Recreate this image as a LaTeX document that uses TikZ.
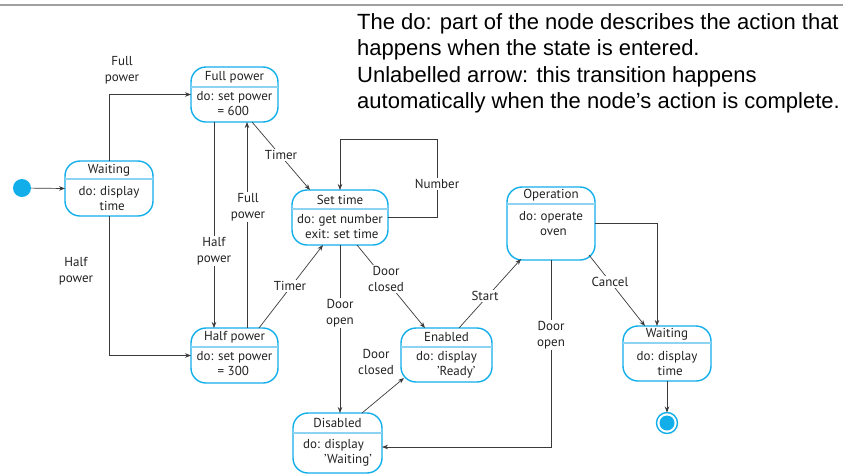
\documentclass[tikz,border=0pt]{standalone}
\usepackage{fontspec}
\setmainfont{PT Sans}
\newfontfamily\notefont{Liberation Sans}
\usetikzlibrary{arrows.meta}
\definecolor{stcyan}{HTML}{12AEEA}
\definecolor{divcyan}{HTML}{8FD3F2}
\definecolor{edgecol}{HTML}{3A3A3A}
\definecolor{txtcol}{HTML}{222222}
\tikzset{
  statebox/.style={draw=stcyan, line width=1.4pt, rounded corners=15pt, inner sep=0pt, outer sep=0pt},
  divline/.style={draw=divcyan, line width=1.4pt},
  ttext/.style={font=\fontsize{13}{15}\selectfont, text=txtcol, inner sep=0pt},
  btext/.style={font=\fontsize{13}{15}\selectfont, align=left, inner sep=0pt, text=txtcol},
  tr/.style={draw=edgecol, line width=0.7pt, -{Stealth[length=6pt,width=4.5pt]}},
  lbl/.style={font=\fontsize{13}{16}\selectfont, align=center, fill=white, inner sep=1.5pt, text=txtcol},
  notetext/.style={font=\notefont\fontsize{22}{26}\selectfont, anchor=base west, inner sep=0pt, text=black},
}
\newcommand\mkstate[9]{%
  \pgfmathsetmacro\mkw{#4-#2}%
  \pgfmathsetmacro\mkh{#5-#3}%
  \pgfmathsetmacro\mkcx{(#2+#4)/2}%
  \pgfmathsetmacro\mkcy{(#3+#5)/2}%
  \pgfmathsetmacro\mkty{(#3+#6)/2}%
  \node[statebox, minimum width=\mkw pt, minimum height=\mkh pt] (#1) at (\mkcx,\mkcy) {};
  \draw[divline] (#2,#6) -- (#4,#6);
  \node[ttext] (#1-t) at (\mkcx,\mkty) {#7};
  \node[btext] (#1-b) at (\mkcx,#9) {#8};
}
\begin{document}
\begin{tikzpicture}[x=1pt,y=-1pt]
\useasboundingbox (0,0) rectangle (855,475);
\draw[gray!75, line width=1.2pt] (0,5) -- (843,5);

% note text
\node[notetext] (n1t) at (357,29) {The do: part of the node describes the action that};
\node[notetext] (n2t) at (357,55) {happens when the state is entered.};
\node[notetext] (n3t) at (357,82) {Unlabelled arrow: this transition happens};
\node[notetext] (n4t) at (357,108) {automatically when the node’s action is complete.};

% states
\mkstate{w1}{65}{161}{153}{216}{179}{Waiting}{do: display\\\hspace*{21pt}time}{198.5}
\mkstate{fp}{191}{67}{278}{122}{87}{Full power}{do: set power\\\hspace*{21pt}= 600}{103.5}
\mkstate{st}{292}{190}{388}{245}{209}{Set time}{do: get number\\\hspace*{8pt}exit: set time}{227}
\mkstate{hp}{191}{328}{278}{383}{347}{Half power}{do: set power\\\hspace*{21pt}= 300}{364}
\mkstate{dis}{293}{413}{382}{473}{433}{Disabled}{do: display\\\hspace*{21pt}'Waiting'}{452.5}
\mkstate{en}{401}{328}{492}{382}{347}{Enabled}{do: display\\\hspace*{21pt}'Ready'}{364.5}
\mkstate{op}{507}{187}{595}{260}{204}{Operation}{do: operate\\\hspace*{21pt}oven}{224}
\mkstate{w2}{623}{326}{711}{381}{343}{Waiting}{do: display\\\hspace*{21pt}time}{363}

% initial and final
\node[circle, fill=stcyan, minimum size=18pt, inner sep=0pt, outer sep=0pt] (init) at (22,188) {};
\node[circle, draw=stcyan, line width=1.4pt, minimum size=21pt, inner sep=0pt, outer sep=0pt] (fin) at (667,423) {};
\node[circle, fill=stcyan, minimum size=15pt, inner sep=0pt] (fin-in) at (667,423) {};

\coordinate (nloop) at (437,139);

% transitions
\draw[tr] (init) -- (w1.west);
\draw[tr] (w1.north) |- (fp.west);
\draw[tr] (w1.south) |- (hp.west);
\draw[tr] ([xshift=-20.5pt]fp.south) -- ([xshift=-20.5pt]hp.north);
\draw[tr] ([xshift=12.5pt]hp.north) -- ([xshift=12.5pt]fp.south);
\draw[tr] ([xshift=17.5pt]fp.south) -- ([xshift=-30pt]st.north);
\draw[tr] ([xshift=24.5pt]hp.north) -- ([xshift=-17pt]st.south);
\draw[tr] (st.east) -| (nloop) -| (st.north);
\draw[tr] (st.south) -- (st.south |- dis.north);
\draw[tr] ([xshift=17pt]st.south) -- ([xshift=-21.5pt]en.north);
\draw[tr] ([xshift=24.5pt]dis.north) -- ([xshift=3pt,yshift=4pt]en.south west);
\draw[tr] ([xshift=12.5pt]en.north) -- ([xshift=14pt,yshift=1pt]op.south west);
\draw[tr] (op.south) |- ([yshift=-4pt]dis.east);
\draw[tr] ([xshift=-6pt,yshift=5pt]op.south east) -- ([xshift=-22pt]w2.north);
\draw[tr] (op.east) -| ([xshift=-10pt]w2.north);
\draw[tr] (w2.south) -- (fin.north);

% labels
\node[lbl] (l1) at (122,70) {Full\\power};
\node[lbl] (l2) at (76,271) {Half\\power};
\node[lbl] (l3) at (214,251) {Half\\power};
\node[lbl] (l4) at (248,207) {Full\\power};
\node[lbl] (l5) at (281,155) {Timer};
\node[lbl] (l6) at (290,286) {Timer};
\node[lbl] (l7) at (437,184) {Number};
\node[lbl] (l8) at (340,313) {Door\\open};
\node[lbl] (l9) at (386,279) {Door\\closed};
\node[lbl] (l10) at (376,362) {Door\\closed};
\node[lbl] (l11) at (485,296) {Start};
\node[lbl] (l12) at (551,335) {Door\\open};
\node[lbl] (l13) at (610,282) {Cancel};
\end{tikzpicture}
\end{document}
